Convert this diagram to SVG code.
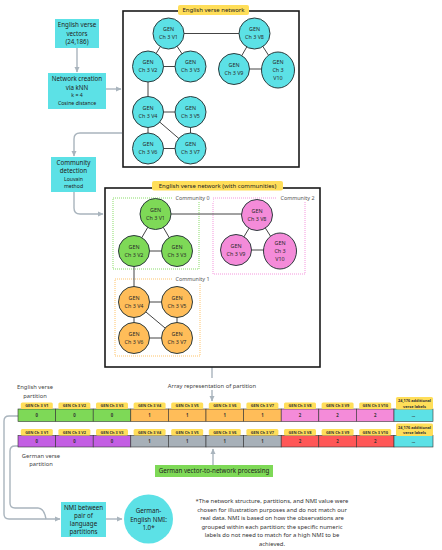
<svg xmlns="http://www.w3.org/2000/svg" width="442" height="550" viewBox="0 0 442 550">
<defs>
<marker id="ah" markerWidth="6" markerHeight="6" refX="5" refY="3" orient="auto" markerUnits="userSpaceOnUse">
<path d="M0,0.5 L5.5,3 L0,5.5 z" fill="#a9b4bd"/>
</marker>
</defs>
<style>
text{font-family:"Noto Sans","Open Sans",sans-serif;fill:#222;text-anchor:middle}
.box{fill:#5ce1e6}
.t6{font-size:6.2px}
.t5{font-size:5.2px}
.nd{stroke:#2d3b3d;stroke-width:1}
.cy{fill:#5ce1e6}.gr{fill:#7ed957}.or{fill:#ffbd59}.pk{fill:#f48bd9}
.nt{font-size:5.4px;fill:#2a2a2a}
.edge{stroke:#444;stroke-width:1;fill:none}
.conn{stroke:#a9b4bd;stroke-width:1.4;fill:none}
.frame{fill:#fff;stroke:#1a1a1a;stroke-width:1.6}
.yl{fill:#ffde59}
.lab{font-size:6px;fill:#222}
.com{font-size:5.4px;fill:#555}
.hd{font-size:3.9px;font-weight:bold;fill:#333}
.cv{font-size:4.3px;font-weight:bold;fill:#333}
.cell{stroke:#333;stroke-width:0.6}
.note{font-size:5.9px;fill:#333}
</style>
<rect width="442" height="550" fill="#fff"/>

<g id="connectors">
<path class="conn" d="M77,48 V72" marker-end="url(#ah)"/>
<path class="conn" d="M106,89 H121" marker-end="url(#ah)"/>
<path class="conn" d="M122,133 H80 Q74,133 74,139 V156" marker-end="url(#ah)"/>
<path class="conn" d="M74,192 V208 Q74,214 80,214 H103" marker-end="url(#ah)"/>
<path class="conn" d="M212,367 V378"/>
<path class="conn" d="M212,390 V401" marker-end="url(#ah)"/>
<path class="conn" d="M213,465 V449" marker-end="url(#ah)"/>
<path class="conn" d="M18,416 H9 Q4,416 4,421 V514 Q4,519 9,519 H60" marker-end="url(#ah)"/>
<path class="conn" d="M18,446 H15 Q10,446 10,451 V503 Q10,508 15,508 H38 Q44,508 46,519"/>
<path class="conn" d="M106,519 H122" marker-end="url(#ah)"/>
</g>

<g id="vectors">
<rect class="box" x="55" y="19" width="44" height="29"/>
<text class="t6" x="77" y="27">English verse</text>
<text class="t6" x="77" y="35.5">vectors</text>
<text class="t6" x="77" y="44">(24,186)</text>
</g>

<g id="knn">
<rect class="box" x="48" y="73" width="58" height="36"/>
<text class="t6" x="77" y="81">Network creation</text>
<text class="t6" x="77" y="89.5">via kNN</text>
<text class="t5" x="77" y="97">k = 4</text>
<text class="t5" x="77" y="105">Cosine distance</text>
</g>

<g id="community-detection">
<rect class="box" x="51" y="157" width="45" height="35"/>
<text class="t6" x="73.5" y="164.5">Community</text>
<text class="t6" x="73.5" y="173">detection</text>
<text class="t5" x="73.5" y="180.5">Louvain</text>
<text class="t5" x="73.5" y="188">method</text>
</g>

<g id="network1">
<rect class="frame" x="123" y="11" width="176" height="156"/>
<rect class="yl" x="178" y="5" width="71" height="10" rx="2"/>
<text class="lab" x="213.5" y="12.3">English verse network</text>
<path class="edge" d="M168.5,33.5 L148,66.5 M168.5,33.5 L190.5,66.5 M148,66.5 H190.5 M168.5,33.5 H254.5 M254.5,33.5 L234,69 M254.5,33.5 L278,70 M234,69 H278 M148,66.5 V112 M148,112 H190.5 M148,112 V148.5 M148,112 L190.5,148.5 M190.5,112 V148.5 M148,148.5 H190.5"/>
<g id="n1v1"><circle class="nd cy" cx="168.5" cy="33.5" r="15.5"/><text class="nt" x="168.5" y="31">GEN</text><text class="nt" x="168.5" y="39">Ch 3 V1</text></g>
<g id="n1v2"><circle class="nd cy" cx="148" cy="66.5" r="15.5"/><text class="nt" x="148" y="64">GEN</text><text class="nt" x="148" y="72">Ch 3 V2</text></g>
<g id="n1v3"><circle class="nd cy" cx="190.5" cy="66.5" r="15.5"/><text class="nt" x="190.5" y="64">GEN</text><text class="nt" x="190.5" y="72">Ch 3 V3</text></g>
<g id="n1v4"><circle class="nd cy" cx="148" cy="112" r="15.5"/><text class="nt" x="148" y="109.5">GEN</text><text class="nt" x="148" y="117.5">Ch 3 V4</text></g>
<g id="n1v5"><circle class="nd cy" cx="190.5" cy="112" r="15.5"/><text class="nt" x="190.5" y="109.5">GEN</text><text class="nt" x="190.5" y="117.5">Ch 3 V5</text></g>
<g id="n1v6"><circle class="nd cy" cx="148" cy="148.5" r="15.5"/><text class="nt" x="148" y="146">GEN</text><text class="nt" x="148" y="154">Ch 3 V6</text></g>
<g id="n1v7"><circle class="nd cy" cx="190.5" cy="148.5" r="15.5"/><text class="nt" x="190.5" y="146">GEN</text><text class="nt" x="190.5" y="154">Ch 3 V7</text></g>
<g id="n1v8"><circle class="nd cy" cx="254.5" cy="33.5" r="15.5"/><text class="nt" x="254.5" y="31">GEN</text><text class="nt" x="254.5" y="39">Ch 3 V8</text></g>
<g id="n1v9"><circle class="nd cy" cx="234" cy="69" r="15.5"/><text class="nt" x="234" y="66.5">GEN</text><text class="nt" x="234" y="74.5">Ch 3 V9</text></g>
<g id="n1v10"><ellipse class="nd cy" cx="278" cy="70" rx="16.5" ry="18"/><text class="nt" x="278" y="63.5">GEN</text><text class="nt" x="278" y="71.5">Ch 3</text><text class="nt" x="278" y="79.5">V10</text></g>
</g>

<g id="network2">
<rect class="frame" x="105" y="188" width="215" height="179"/>
<rect class="yl" x="152" y="181" width="131" height="9.5" rx="2"/>
<text class="lab" x="217.5" y="188">English verse network (with communities)</text>
<rect x="113" y="198" width="86" height="71" fill="none" stroke="#7ed957" stroke-width="0.9" stroke-dasharray="1,1"/>
<rect x="213" y="198" width="92" height="76" fill="none" stroke="#f48bd9" stroke-width="0.9" stroke-dasharray="1,1"/>
<rect x="115" y="279" width="85" height="77" fill="none" stroke="#ffbd59" stroke-width="0.9" stroke-dasharray="1,1"/>
<rect x="172" y="195" width="41" height="7" fill="#fff"/>
<text class="com" x="192.5" y="200">Community 0</text>
<rect x="277" y="195" width="41" height="7" fill="#fff"/>
<text class="com" x="297.5" y="200">Community 2</text>
<rect x="172" y="276" width="41" height="7" fill="#fff"/>
<text class="com" x="192.5" y="281">Community 1</text>
<path class="edge" d="M155.5,214 L134,251 M155.5,214 L177,251 M134,251 H177 M155.5,214 H257 M257,215 L236,250 M257,215 L280,251 M236,250 H280 M134,251 V302 M134,302 H177 M134,302 V338 M134,302 L177,338 M177,302 V338 M134,338 H177"/>
<g id="n2v1"><circle class="nd gr" cx="155.5" cy="214" r="15.5"/><text class="nt" x="155.5" y="211.5">GEN</text><text class="nt" x="155.5" y="219.5">Ch 3 V1</text></g>
<g id="n2v2"><circle class="nd gr" cx="134" cy="251" r="15.5"/><text class="nt" x="134" y="248.5">GEN</text><text class="nt" x="134" y="256.5">Ch 3 V2</text></g>
<g id="n2v3"><circle class="nd gr" cx="177" cy="251" r="15.5"/><text class="nt" x="177" y="248.5">GEN</text><text class="nt" x="177" y="256.5">Ch 3 V3</text></g>
<g id="n2v4"><circle class="nd or" cx="134" cy="302" r="15.5"/><text class="nt" x="134" y="299.5">GEN</text><text class="nt" x="134" y="307.5">Ch 3 V4</text></g>
<g id="n2v5"><circle class="nd or" cx="177" cy="302" r="15.5"/><text class="nt" x="177" y="299.5">GEN</text><text class="nt" x="177" y="307.5">Ch 3 V5</text></g>
<g id="n2v6"><circle class="nd or" cx="134" cy="338" r="15.5"/><text class="nt" x="134" y="335.5">GEN</text><text class="nt" x="134" y="343.5">Ch 3 V6</text></g>
<g id="n2v7"><circle class="nd or" cx="177" cy="338" r="15.5"/><text class="nt" x="177" y="335.5">GEN</text><text class="nt" x="177" y="343.5">Ch 3 V7</text></g>
<g id="n2v8"><circle class="nd pk" cx="257" cy="215" r="15.5"/><text class="nt" x="257" y="212.5">GEN</text><text class="nt" x="257" y="220.5">Ch 3 V8</text></g>
<g id="n2v9"><circle class="nd pk" cx="236" cy="250" r="15.5"/><text class="nt" x="236" y="247.5">GEN</text><text class="nt" x="236" y="255.5">Ch 3 V9</text></g>
<g id="n2v10"><ellipse class="nd pk" cx="280" cy="251" rx="16.5" ry="18"/><text class="nt" x="280" y="244.5">GEN</text><text class="nt" x="280" y="252.5">Ch 3</text><text class="nt" x="280" y="260.5">V10</text></g>
</g>

<g id="array-label">
<text class="com" x="212" y="387.5" style="font-size:5.8px;fill:#444">Array representation of partition</text>
</g>

<g id="english-partition">
<text class="com" x="35" y="389" style="font-size:5.8px;fill:#444">English verse</text>
<text class="com" x="35" y="397.5" style="font-size:5.8px;fill:#444">partition</text>
<g>
<rect class="cell gr" x="18" y="409" width="37.6" height="12.5"/>
<rect class="cell gr" x="55.6" y="409" width="37.6" height="12.5"/>
<rect class="cell gr" x="93.2" y="409" width="37.6" height="12.5"/>
<rect class="cell or" x="130.8" y="409" width="37.6" height="12.5"/>
<rect class="cell or" x="168.4" y="409" width="37.6" height="12.5"/>
<rect class="cell or" x="206" y="409" width="37.6" height="12.5"/>
<rect class="cell or" x="243.6" y="409" width="37.6" height="12.5"/>
<rect class="cell pk" x="281.2" y="409" width="37.6" height="12.5"/>
<rect class="cell pk" x="318.8" y="409" width="37.6" height="12.5"/>
<rect class="cell pk" x="356.4" y="409" width="37.6" height="12.5"/>
<rect class="cell cy" x="394" y="409" width="39" height="12.5"/>
</g>
<g>
<rect class="yl" x="20.8" y="402.5" width="32" height="6.5" rx="1.5"/>
<rect class="yl" x="58.4" y="402.5" width="32" height="6.5" rx="1.5"/>
<rect class="yl" x="96" y="402.5" width="32" height="6.5" rx="1.5"/>
<rect class="yl" x="133.6" y="402.5" width="32" height="6.5" rx="1.5"/>
<rect class="yl" x="171.2" y="402.5" width="32" height="6.5" rx="1.5"/>
<rect class="yl" x="208.8" y="402.5" width="32" height="6.5" rx="1.5"/>
<rect class="yl" x="246.4" y="402.5" width="32" height="6.5" rx="1.5"/>
<rect class="yl" x="284" y="402.5" width="32" height="6.5" rx="1.5"/>
<rect class="yl" x="321.6" y="402.5" width="32" height="6.5" rx="1.5"/>
<rect class="yl" x="359.2" y="402.5" width="32" height="6.5" rx="1.5"/>
<rect class="yl" x="396" y="397" width="37" height="12.5" rx="1.5"/>
</g>
<text class="hd" x="36.8" y="407.3">GEN Ch 3 V1</text>
<text class="hd" x="74.4" y="407.3">GEN Ch 3 V2</text>
<text class="hd" x="112" y="407.3">GEN Ch 3 V3</text>
<text class="hd" x="149.6" y="407.3">GEN Ch 3 V4</text>
<text class="hd" x="187.2" y="407.3">GEN Ch 3 V5</text>
<text class="hd" x="224.8" y="407.3">GEN Ch 3 V6</text>
<text class="hd" x="262.4" y="407.3">GEN Ch 3 V7</text>
<text class="hd" x="300" y="407.3">GEN Ch 3 V8</text>
<text class="hd" x="337.6" y="407.3">GEN Ch 3 V9</text>
<text class="hd" x="375.2" y="407.3">GEN Ch 3 V10</text>
<text class="hd" x="414.5" y="402">24,176 additional</text>
<text class="hd" x="414.5" y="407.5">verse labels</text>
<text class="cv" x="36.8" y="417">0</text>
<text class="cv" x="74.4" y="417">0</text>
<text class="cv" x="112" y="417">0</text>
<text class="cv" x="149.6" y="417">1</text>
<text class="cv" x="187.2" y="417">1</text>
<text class="cv" x="224.8" y="417">1</text>
<text class="cv" x="262.4" y="417">1</text>
<text class="cv" x="300" y="417">2</text>
<text class="cv" x="337.6" y="417">2</text>
<text class="cv" x="375.2" y="417">2</text>
<text class="cv" x="413.5" y="417">...</text>
</g>

<g id="german-partition">
<g>
<rect class="cell" fill="#c35ee3" x="18" y="435.5" width="37.6" height="11.5"/>
<rect class="cell" fill="#c35ee3" x="55.6" y="435.5" width="37.6" height="11.5"/>
<rect class="cell" fill="#c35ee3" x="93.2" y="435.5" width="37.6" height="11.5"/>
<rect class="cell" fill="#a7b0b8" x="130.8" y="435.5" width="37.6" height="11.5"/>
<rect class="cell" fill="#a7b0b8" x="168.4" y="435.5" width="37.6" height="11.5"/>
<rect class="cell" fill="#a7b0b8" x="206" y="435.5" width="37.6" height="11.5"/>
<rect class="cell" fill="#a7b0b8" x="243.6" y="435.5" width="37.6" height="11.5"/>
<rect class="cell" fill="#ff5757" x="281.2" y="435.5" width="37.6" height="11.5"/>
<rect class="cell" fill="#ff5757" x="318.8" y="435.5" width="37.6" height="11.5"/>
<rect class="cell" fill="#ff5757" x="356.4" y="435.5" width="37.6" height="11.5"/>
<rect class="cell cy" x="394" y="435.5" width="39" height="11.5"/>
</g>
<g>
<rect class="yl" x="20.8" y="429" width="32" height="6.5" rx="1.5"/>
<rect class="yl" x="58.4" y="429" width="32" height="6.5" rx="1.5"/>
<rect class="yl" x="96" y="429" width="32" height="6.5" rx="1.5"/>
<rect class="yl" x="133.6" y="429" width="32" height="6.5" rx="1.5"/>
<rect class="yl" x="171.2" y="429" width="32" height="6.5" rx="1.5"/>
<rect class="yl" x="208.8" y="429" width="32" height="6.5" rx="1.5"/>
<rect class="yl" x="246.4" y="429" width="32" height="6.5" rx="1.5"/>
<rect class="yl" x="284" y="429" width="32" height="6.5" rx="1.5"/>
<rect class="yl" x="321.6" y="429" width="32" height="6.5" rx="1.5"/>
<rect class="yl" x="359.2" y="429" width="32" height="6.5" rx="1.5"/>
<rect class="yl" x="396" y="423.5" width="37" height="12.5" rx="1.5"/>
</g>
<text class="hd" x="36.8" y="433.8">GEN Ch 3 V1</text>
<text class="hd" x="74.4" y="433.8">GEN Ch 3 V2</text>
<text class="hd" x="112" y="433.8">GEN Ch 3 V3</text>
<text class="hd" x="149.6" y="433.8">GEN Ch 3 V4</text>
<text class="hd" x="187.2" y="433.8">GEN Ch 3 V5</text>
<text class="hd" x="224.8" y="433.8">GEN Ch 3 V6</text>
<text class="hd" x="262.4" y="433.8">GEN Ch 3 V7</text>
<text class="hd" x="300" y="433.8">GEN Ch 3 V8</text>
<text class="hd" x="337.6" y="433.8">GEN Ch 3 V9</text>
<text class="hd" x="375.2" y="433.8">GEN Ch 3 V10</text>
<text class="hd" x="414.5" y="428.5">24,176 additional</text>
<text class="hd" x="414.5" y="434">verse labels</text>
<text class="cv" x="36.8" y="443">0</text>
<text class="cv" x="74.4" y="443">0</text>
<text class="cv" x="112" y="443">0</text>
<text class="cv" x="149.6" y="443">1</text>
<text class="cv" x="187.2" y="443">1</text>
<text class="cv" x="224.8" y="443">1</text>
<text class="cv" x="262.4" y="443">1</text>
<text class="cv" x="300" y="443">2</text>
<text class="cv" x="337.6" y="443">2</text>
<text class="cv" x="375.2" y="443">2</text>
<text class="cv" x="413.5" y="443">...</text>
<text class="com" x="41" y="457.5" style="font-size:5.8px;fill:#444">German verse</text>
<text class="com" x="41" y="466" style="font-size:5.8px;fill:#444">partition</text>
</g>

<g id="german-processing">
<rect x="155" y="465" width="118" height="12" fill="#7ed957"/>
<text class="t6" x="214" y="473.2">German vector-to-network processing</text>
</g>

<g id="nmi-box">
<rect class="box" x="61" y="502" width="45" height="35"/>
<text class="t6" x="83.5" y="510">NMI between</text>
<text class="t6" x="83.5" y="518">pair of</text>
<text class="t6" x="83.5" y="526">language</text>
<text class="t6" x="83.5" y="534">partitions</text>
</g>

<g id="nmi-result">
<circle class="cy" cx="148.5" cy="519" r="24.5"/>
<text class="t6" x="148.5" y="513">German-</text>
<text class="t6" x="148.5" y="521.5">English NMI:</text>
<text class="t6" x="148.5" y="530">1.0*</text>
</g>

<g id="footnote">
<text class="note" x="272" y="503">*The network structure, partitions, and NMI value were</text>
<text class="note" x="272" y="511.5">chosen for illustration purposes and do not match our</text>
<text class="note" x="272" y="520">real data. NMI is based on how the observations are</text>
<text class="note" x="272" y="528.5">grouped within each partition; the specific numeric</text>
<text class="note" x="272" y="537">labels do not need to match for a high NMI to be</text>
<text class="note" x="272" y="545.5">achieved.</text>
</g>
</svg>
